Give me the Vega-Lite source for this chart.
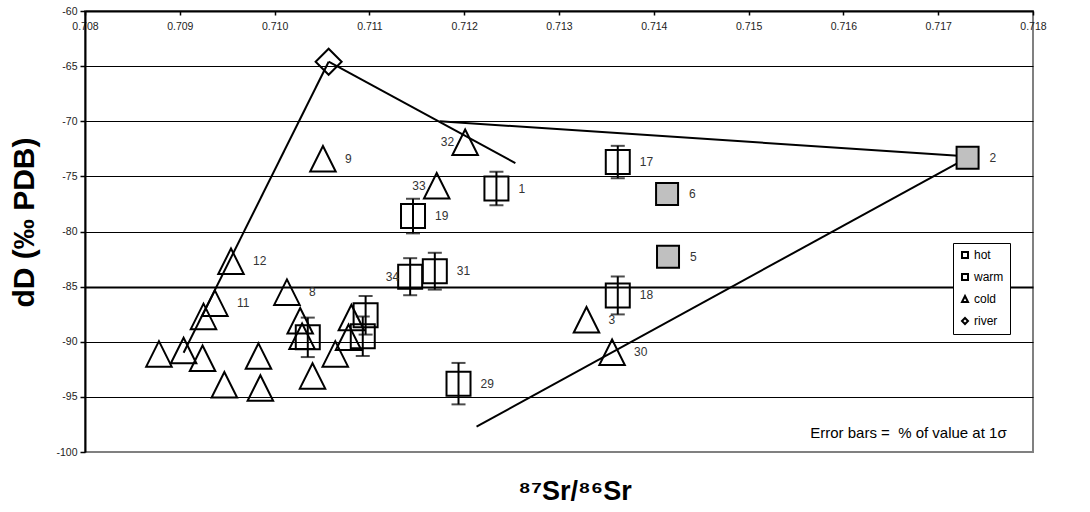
{
  "$schema": "https://vega.github.io/schema/vega-lite/v6.json",
  "width": 948,
  "height": 441,
  "autosize": {"type": "none"},
  "padding": {"left": 85, "top": 11, "right": 57, "bottom": 60},
  "background": "white",
  "config": {
    "view": {"stroke": "#808080", "strokeWidth": 2},
    "font": "Liberation Sans"
  },
  "title": {
    "text": "⁸⁷Sr/⁸⁶Sr",
    "orient": "bottom",
    "anchor": "middle",
    "font": "Liberation Sans",
    "fontSize": 27,
    "fontWeight": "bold",
    "color": "black",
    "offset": 21,
    "dx": 16
  },
  "datasets": {
    "pts": [
      {"type": "cold", "x": 0.70878, "y": -91.1, "label": null},
      {"type": "cold", "x": 0.70904, "y": -90.8, "label": null},
      {"type": "cold", "x": 0.70924, "y": -91.5, "label": null},
      {"type": "cold", "x": 0.70925, "y": -87.7, "label": null},
      {"type": "cold", "x": 0.70937, "y": -86.5, "label": "11"},
      {"type": "cold", "x": 0.70954, "y": -82.7, "label": "12"},
      {"type": "cold", "x": 0.70947, "y": -93.9, "label": null},
      {"type": "cold", "x": 0.70983, "y": -91.3, "label": null},
      {"type": "cold", "x": 0.70985, "y": -94.2, "label": null},
      {"type": "cold", "x": 0.71013, "y": -85.5, "label": "8"},
      {"type": "cold", "x": 0.71027, "y": -88.1, "label": null},
      {"type": "cold", "x": 0.71029, "y": -89.5, "label": null},
      {"type": "cold", "x": 0.7104, "y": -93.1, "label": null},
      {"type": "cold", "x": 0.71064, "y": -91.1, "label": null},
      {"type": "cold", "x": 0.71081, "y": -87.8, "label": null},
      {"type": "cold", "x": 0.71078, "y": -89.6, "label": null},
      {"type": "cold", "x": 0.71051, "y": -73.4, "label": "9"},
      {"type": "cold", "x": 0.71201, "y": -71.9, "label": "32"},
      {"type": "cold", "x": 0.71171, "y": -75.85, "label": "33"},
      {"type": "cold", "x": 0.71329, "y": -88.0, "label": "3"},
      {"type": "cold", "x": 0.71356, "y": -90.95, "label": "30"},
      {"type": "river", "x": 0.71057, "y": -64.6, "label": null},
      {"type": "hot", "x": 0.71731, "y": -73.3, "label": "2"},
      {"type": "hot", "x": 0.71414, "y": -76.6, "label": "6"},
      {"type": "hot", "x": 0.71415, "y": -82.3, "label": "5"},
      {"type": "warm", "x": 0.71234, "y": -76.1, "label": "1", "lo": -77.62, "hi": -74.58},
      {"type": "warm", "x": 0.71362, "y": -73.7, "label": "17", "lo": -75.17, "hi": -72.23},
      {"type": "warm", "x": 0.71362, "y": -85.8, "label": "18", "lo": -87.52, "hi": -84.08},
      {"type": "warm", "x": 0.71146, "y": -78.6, "label": "19", "lo": -80.17, "hi": -77.03},
      {"type": "warm", "x": 0.71143, "y": -84.1, "label": "34", "lo": -85.78, "hi": -82.42},
      {"type": "warm", "x": 0.71169, "y": -83.6, "label": "31", "lo": -85.27, "hi": -81.93},
      {"type": "warm", "x": 0.71194, "y": -93.8, "label": "29", "lo": -95.68, "hi": -91.92},
      {"type": "warm", "x": 0.71035, "y": -89.6, "label": null, "lo": -91.39, "hi": -87.81},
      {"type": "warm", "x": 0.71096, "y": -87.6, "label": null, "lo": -89.35, "hi": -85.85},
      {"type": "warm", "x": 0.71093, "y": -89.5, "label": null, "lo": -91.29, "hi": -87.71}
    ],
    "segs": [
      {"xa": 0.70904, "ya": -91.0, "xb": 0.71057, "yb": -64.6},
      {"xa": 0.71057, "ya": -64.6, "xb": 0.71254, "yb": -73.8},
      {"xa": 0.71174, "ya": -70.0, "xb": 0.71733, "yb": -73.2},
      {"xa": 0.71213, "ya": -97.7, "xb": 0.71733, "yb": -73.2}
    ],
    "note": [
      {"x": 0.71565, "y": -98.28, "text": "Error bars = \u00a0% of value at 1σ"}
    ]
  },
  "layer": [
    {
      "data": {"name": "segs"},
      "mark": {"type": "rule", "color": "black", "strokeWidth": 2},
      "encoding": {
        "x": {
          "field": "xa", "type": "quantitative",
          "scale": {"domain": [0.708, 0.718], "nice": false, "zero": false},
          "axis": {
            "orient": "bottom",
            "offset": -441,
            "title": null,
            "values": [0.708, 0.709, 0.71, 0.711, 0.712, 0.713, 0.714, 0.715, 0.716, 0.717, 0.718],
            "format": ".3f",
            "grid": false,
            "domainColor": "black",
            "domainWidth": 2,
            "tickColor": "black",
            "tickWidth": 1.5,
            "tickSize": 4,
            "labelFontSize": 10.5,
            "labelColor": "#222",
            "labelPadding": 6,
            "labelOverlap": false,
            "labelFlush": false,
            "labelFont": "Liberation Sans"
          }
        },
        "y": {
          "field": "ya", "type": "quantitative",
          "scale": {"domain": [-100, -60], "nice": false, "zero": false},
          "axis": {
            "title": "dD (‰ PDB)",
            "titleFont": "Liberation Sans",
            "titleFontSize": 30,
            "titleFontWeight": "bold",
            "titleColor": "black",
            "titleBaseline": "middle",
            "titleX": -61,
            "titleY": 211,
            "titleAngle": -90,
            "values": [-100, -95, -90, -85, -80, -75, -70, -65, -60],
            "labelExpr": "'' + datum.value",
            "grid": true,
            "gridColor": {"condition": {"test": "datum.value <= -100", "value": "#808080"}, "value": "black"},
            "gridWidth": {"condition": {"test": "datum.value == -85", "value": 2}, "value": 1},
            "domainColor": "black",
            "domainWidth": 2,
            "tickColor": "black",
            "tickWidth": 1.5,
            "tickSize": 5,
            "labelFontSize": 10.5,
            "labelColor": "#222",
            "labelPadding": 3,
            "labelFont": "Liberation Sans"
          }
        },
        "x2": {"field": "xb"},
        "y2": {"field": "yb"}
      }
    },
    {
      "data": {"name": "pts"},
      "transform": [{"filter": "datum.type == 'warm'"}],
      "mark": {"type": "rule", "color": "black", "strokeWidth": 2},
      "encoding": {
        "x": {"field": "x", "type": "quantitative"},
        "y": {"field": "lo", "type": "quantitative"},
        "y2": {"field": "hi"}
      }
    },
    {
      "data": {"name": "pts"},
      "transform": [
        {"filter": "datum.type == 'warm'"},
        {"fold": ["lo", "hi"], "as": ["end", "val"]}
      ],
      "mark": {"type": "tick", "orient": "horizontal", "color": "black", "size": 14, "thickness": 2},
      "encoding": {
        "x": {"field": "x", "type": "quantitative"},
        "y": {"field": "val", "type": "quantitative"}
      }
    },
    {
      "data": {"name": "pts"},
      "mark": {"type": "point", "filled": true, "stroke": "black", "strokeWidth": 2, "opacity": 1, "fillOpacity": 1, "strokeOpacity": 1},
      "encoding": {
        "x": {"field": "x", "type": "quantitative"},
        "y": {"field": "y", "type": "quantitative"},
        "shape": {
          "field": "type", "type": "nominal",
          "scale": {"domain": ["hot", "warm", "cold", "river"], "range": ["square", "square", "M0,-1L1,1L-1,1Z", "diamond"]},
          "legend": {
            "orient": "none",
            "legendX": 868,
            "legendY": 232,
            "title": null,
            "fillColor": "white",
            "strokeColor": "black",
            "padding": 6,
            "rowPadding": 8,
            "symbolSize": 36,
            "symbolStrokeWidth": 2,
            "symbolStrokeColor": "black",
            "symbolFillColor": "white",
            "labelFont": "Liberation Sans",
            "labelFontSize": 12,
            "labelColor": "black",
            "labelOffset": 3
          }
        },
        "fill": {
          "condition": {"test": "datum.type == 'hot'", "value": "#c0c0c0"},
          "value": "transparent"
        },
        "size": {
          "condition": [
            {"test": "datum.type == 'hot'", "value": 484},
            {"test": "datum.type == 'warm'", "value": 576},
            {"test": "datum.type == 'river'", "value": 676}
          ],
          "value": 650
        }
      }
    },
    {
      "data": {"name": "pts"},
      "transform": [{"filter": "datum.label != null && indexof(['32','33','34'], datum.label) < 0"}],
      "mark": {"type": "text", "align": "left", "baseline": "middle", "dx": 22, "fontSize": 12, "font": "Liberation Sans", "color": "#333"},
      "encoding": {
        "x": {"field": "x", "type": "quantitative"},
        "y": {"field": "y", "type": "quantitative"},
        "text": {"field": "label"}
      }
    },
    {
      "data": {"name": "pts"},
      "transform": [{"filter": "indexof(['32','33','34'], datum.label) >= 0"}],
      "mark": {"type": "text", "align": "right", "baseline": "middle", "dx": -11, "fontSize": 12, "font": "Liberation Sans", "color": "#333"},
      "encoding": {
        "x": {"field": "x", "type": "quantitative"},
        "y": {"field": "y", "type": "quantitative"},
        "text": {"field": "label"}
      }
    },
    {
      "data": {"name": "note"},
      "mark": {"type": "text", "align": "left", "baseline": "middle", "fontSize": 15, "font": "Liberation Sans", "color": "black"},
      "encoding": {
        "x": {"field": "x", "type": "quantitative"},
        "y": {"field": "y", "type": "quantitative"},
        "text": {"field": "text"}
      }
    }
  ]
}
